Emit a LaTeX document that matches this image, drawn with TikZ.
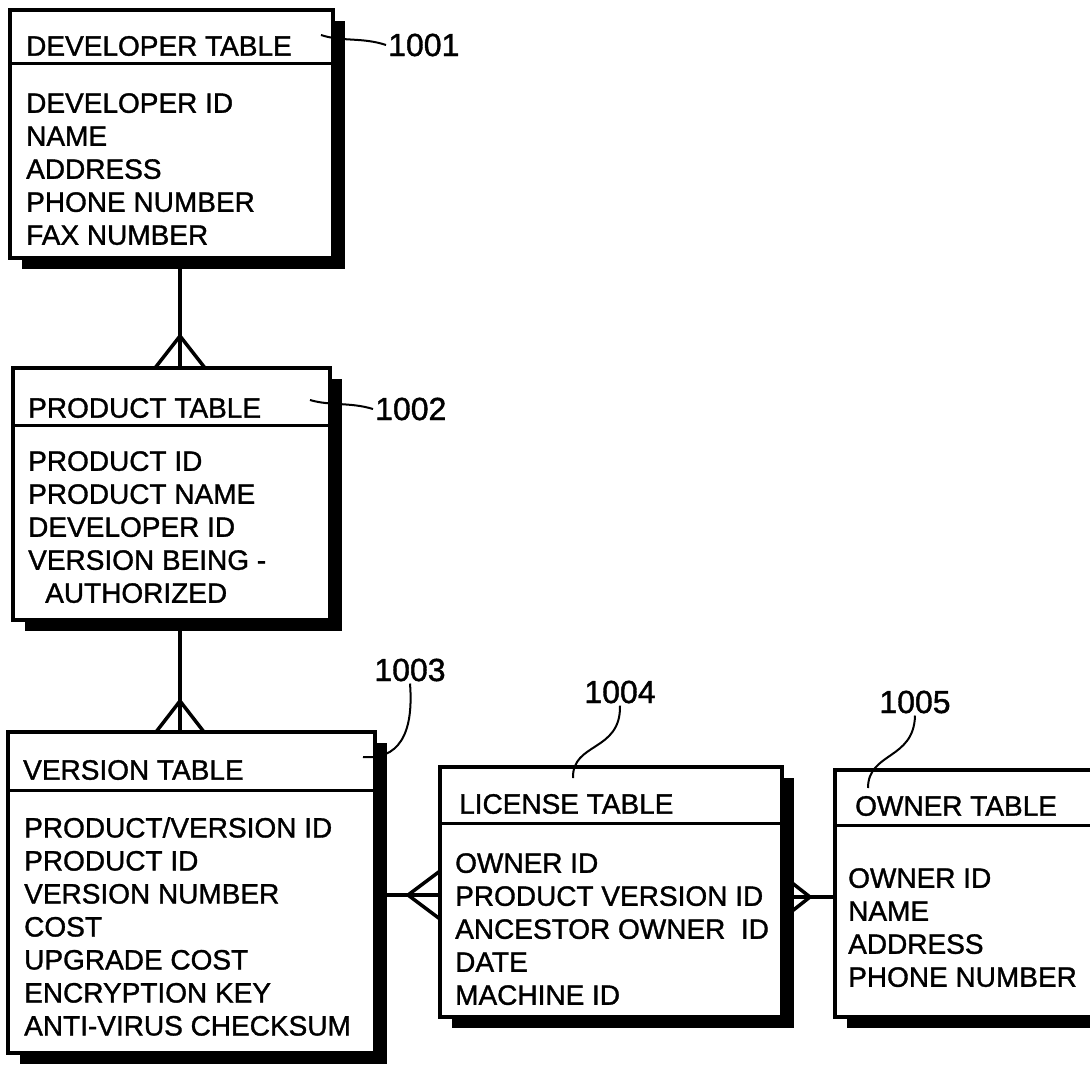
\documentclass[tikz,border=0pt]{standalone}
\usepackage{fontspec}
\setmainfont{Liberation Sans}[FakeBold=1.2]
\usepackage{tikz}
\usetikzlibrary{shadows,calc}
\tikzstyle{tablebox}=[draw,%
                      rectangle,%
                      fill=white,%
                      line width=4.5pt,%
                      inner sep=0pt,%
                      outer sep=0pt,%
                      anchor=north west,%
                      drop shadow={shadow xshift=12pt,shadow yshift=-11pt,opacity=1,fill=black}]
\tikzstyle{headtext}=[inner sep=0pt, anchor=west, font=\fontsize{28}{33}\selectfont]
\tikzstyle{bodytext}=[inner sep=0pt, anchor=north west, align=left, font=\fontsize{28}{33}\selectfont]
\tikzstyle{reflabel}=[inner sep=2pt, font=\fontsize{32}{36}\selectfont]
\tikzstyle{sepline}=[line width=3pt]
\tikzstyle{link}=[line width=3.5pt]
\tikzstyle{leader}=[line width=2pt]

\begin{document}
\begin{tikzpicture}[x=1pt,y=-1pt]
            \clip (0,0) rectangle (1090,1068);
            \node[tablebox, minimum width=323pt, minimum height=248pt] (dev) at (10,10) {};
            \node[tablebox, minimum width=317pt, minimum height=252pt] (prod) at (13,368) {};
            \node[tablebox, minimum width=367pt, minimum height=321pt] (ver) at (8,732) {};
            \node[tablebox, minimum width=342pt, minimum height=250pt] (lic) at (440,767) {};
            \node[tablebox, minimum width=300pt, minimum height=247pt] (own) at (835,770) {};

            \draw[sepline] (dev.west |- 0,63) -- (dev.east |- 0,63);
            \draw[sepline] (prod.west |- 0,425) -- (prod.east |- 0,425);
            \draw[sepline] (ver.west |- 0,790) -- (ver.east |- 0,790);
            \draw[sepline] (lic.west |- 0,823) -- (lic.east |- 0,823);
            \draw[sepline] (own.west |- 0,825) -- (own.east |- 0,825);

            \node[headtext] (devhead) at (26,46) {DEVELOPER TABLE};
            \node[bodytext] (devbody) at (26,93) {DEVELOPER ID\\NAME\\ADDRESS\\PHONE NUMBER\\FAX NUMBER};
            \node[headtext] (prodhead) at (28,408) {PRODUCT TABLE};
            \node[bodytext] (prodbody) at (28,451) {PRODUCT ID\\PRODUCT NAME\\DEVELOPER ID\\VERSION BEING -\\\hspace*{17pt}AUTHORIZED};
            \node[headtext] (verhead) at (23,770) {VERSION TABLE};
            \node[bodytext] (verbody) at (24,817) {PRODUCT/VERSION ID\\PRODUCT ID\\VERSION NUMBER\\COST\\UPGRADE COST\\ENCRYPTION KEY\\ANTI-VIRUS CHECKSUM};
            \node[headtext] (lichead) at (459,804) {LICENSE TABLE};
            \node[bodytext] (licbody) at (455,853) {OWNER ID\\PRODUCT VERSION ID\\ANCESTOR OWNER~ ID\\DATE\\MACHINE ID};
            \node[headtext] (ownhead) at (855,806) {OWNER TABLE};
            \node[bodytext] (ownbody) at (848,868) {OWNER ID\\NAME\\ADDRESS\\PHONE NUMBER};

            \coordinate (xlink) at (180,0);
            \coordinate (yvl) at (0,895);
            \coordinate (ylo) at (0,897);
            \draw[link] (dev.south -| xlink) -- (prod.north -| xlink);
            \draw[link] ($(prod.north -| xlink)+(-25,0)$) -- ($(prod.north -| xlink)+(0,-32)$) -- ($(prod.north -| xlink)+(25,0)$);
            \draw[link] (prod.south -| xlink) -- (ver.north -| xlink);
            \draw[link] ($(ver.north -| xlink)+(-24,0)$) -- ($(ver.north -| xlink)+(0,-31)$) -- ($(ver.north -| xlink)+(24,0)$);
            \draw[link] (ver.east |- yvl) -- (lic.west |- yvl);
            \draw[link] ($(lic.west |- yvl)+(0,-24)$) -- ($(lic.west |- yvl)+(-32,0)$) -- ($(lic.west |- yvl)+(0,24)$);
            \draw[link] (lic.east |- ylo) -- (own.west |- ylo);
            \draw[link] ($(lic.east |- ylo)+(0,-22)$) -- ($(lic.east |- ylo)+(28,0)$) -- ($(lic.east |- ylo)+(0,22)$);

            \node[reflabel, anchor=west] (n1001) at (386,45) {1001};
            \node[reflabel, anchor=west] (n1002) at (373,409) {1002};
            \node[reflabel] (n1003) at (410,670) {1003};
            \node[reflabel] (n1004) at (620,692) {1004};
            \node[reflabel] (n1005) at (915,702) {1005};
            \coordinate (devtip) at (321,35);
            \coordinate (prodtip) at (310,400);
            \coordinate (vertip) at (363,757);
            \coordinate (lictip) at (573,778);
            \coordinate (owntip) at (868,788);
            \draw[leader] (devtip) .. controls (342,42) and (362,37) .. (n1001.west);
            \draw[leader] (prodtip) .. controls (330,406) and (350,402) .. (n1002.west);
            \draw[leader] (vertip) .. controls (398,760) and (414,735) .. (n1003.south);
            \draw[leader] (lictip) .. controls (572,742) and (621,752) .. (n1004.south);
            \draw[leader] (owntip) .. controls (868,752) and (914,760) .. (n1005.south);
  \end{tikzpicture}
\end{document}
